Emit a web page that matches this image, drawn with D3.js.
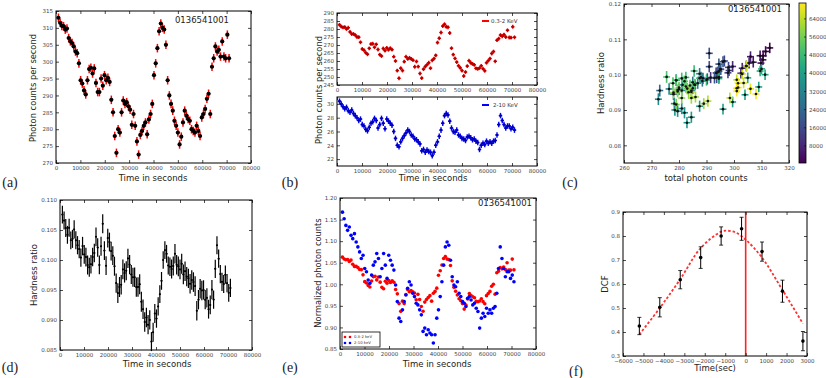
<!DOCTYPE html>
<html>
<head>
<meta charset="utf-8">
<script src="https://cdnjs.cloudflare.com/ajax/libs/d3/7.8.5/d3.min.js"></script>
<style>
body { margin: 0; background: #fff; }
svg { display: block; font-family: "DejaVu Sans", sans-serif; }
</style>
</head>
<body>
<script>
// ---- data ----
// bin times (s)
var time = [1000,1700,2400,3100,3800,4500,5200,5900,6600,7300,
            8000,8700,9400,10100,10800,11500,12200,12900,13600,14300,
            15000,15700,16400,17100,17800,18500,19200,19900,20600,21300,
            22000,22700,23400,24100,24800,25500,26200,26900,27600,28300,
            29000,29700,30400,31100,31800,32500,33200,33900,34600,35300,
            36000,36700,37400,38100,38800,39500,40200,40900,41600,42300,
            43000,43700,44400,45100,45800,46500,47200,47900,48600,49300,
            50000,50700,51400,52100,52800,53500,54200,54900,55600,56300,
            57000,57700,58400,59100,59800,60500,61200,61900,62600,63300,
            64000,64700,65400,66100,66800,67500,68200,68900,69600,70300,71000];

// 0.3-2 keV count rate
var soft = [282.6,281.5,281.0,281.2,280.0,280.8,278.2,276.9,276.9,276.2,
            275.0,274.9,271.7,267.5,266.7,265.2,264.2,267.9,270.6,270.8,
            268.6,270.4,267.2,264.0,263.1,267.8,266.5,268.2,267.0,268.0,
            267.1,262.7,260.0,254.0,249.2,255.5,254.0,259.6,262.7,261.3,
            262.0,261.3,260.5,256.4,259.7,256.5,252.2,249.3,254.9,256.5,
            257.7,258.9,255.5,260.4,261.5,263.5,271.5,274.2,277.8,281.8,
            283.0,281.4,281.1,277.5,268.0,264.0,261.6,259.3,257.0,255.7,
            254.0,250.6,253.1,256.8,260.2,258.9,258.2,257.6,255.4,255.1,
            255.6,257.0,255.2,253.9,258.9,260.2,261.5,264.7,265.9,259.8,
            273.0,274.0,276.2,275.4,276.5,275.0,279.2,274.7,274.6,281.4,274.8];

// 2-10 keV count rate
var hard = [30.4,30.0,29.6,29.3,29.5,29.0,28.8,29.1,28.6,28.3,
            28.0,27.6,27.8,27.0,26.8,26.3,26.1,26.6,27.2,27.4,
            27.9,27.6,26.5,27.0,27.9,27.2,26.4,27.8,27.5,27.2,
            26.9,26.0,25.0,24.0,23.8,24.5,25.0,25.4,25.8,26.2,
            26.0,25.5,25.3,24.9,24.8,24.5,24.2,23.2,23.4,23.0,
            23.3,23.1,23.0,22.5,23.0,24.0,24.5,25.3,26.2,27.2,
            28.3,28.6,28.4,27.5,26.5,26.0,25.9,26.2,25.5,25.3,
            25.0,24.9,24.7,25.2,25.3,25.1,24.8,24.9,24.6,24.4,
            23.4,24.0,24.3,24.1,24.6,24.3,24.5,24.3,24.6,24.7,
            25.5,27.0,28.3,27.6,27.0,26.5,26.8,26.8,26.4,26.6,26.2];

var softErr = 1.2, hardErr = 0.4, timeErr = 700;

// discrete correlation function
var lag = [-5200,-4200,-3200,-2200,-1200,-200,800,1800,2800];
var dcf = [0.425,0.503,0.618,0.71,0.80,0.83,0.735,0.57,0.362];
var dcfErr = [0.036,0.04,0.038,0.045,0.038,0.048,0.04,0.046,0.04];
var fitLag = [-5200,-4200,-3200,-2200,-1200,-900,-500,0,800,1800,2800];
var fitDcf = [0.39,0.50,0.62,0.75,0.818,0.822,0.815,0.785,0.71,0.575,0.435];

var obsId = "0136541001";

// ---- derived quantities ----
var meanS = d3.mean(soft), meanH = d3.mean(hard);
var data = time.map(function(t, i) {
  var s = soft[i], h = hard[i];
  var hr = h / s;
  return {t: t, s: s, h: h, tot: s + h, hr: hr,
          totErr: Math.sqrt(softErr*softErr + hardErr*hardErr),
          hrErr: hr * Math.sqrt(Math.pow(hardErr/h, 2) + Math.pow(softErr/s, 2)),
          ns: s / meanS, nh: h / meanH};
});

var svg = d3.select("body").append("svg")
  .attr("width", 826).attr("height", 378);

var blank = function() { return ""; };

// frame with inward ticks on all sides (matplotlib classic look)
function axes(x, y, xt, yt, xf, yf) {
  var g = svg.append("g");
  var y0 = y.range()[0], y1 = y.range()[1], x0 = x.range()[0], x1 = x.range()[1];
  g.append("g").attr("transform", "translate(0," + y0 + ")")
    .call(d3.axisBottom(x).tickValues(xt).tickFormat(xf).tickSize(-3).tickPadding(3));
  g.append("g").attr("transform", "translate(0," + y1 + ")")
    .call(d3.axisTop(x).tickValues(xt).tickFormat(blank).tickSize(-3));
  g.append("g").attr("transform", "translate(" + x0 + ",0)")
    .call(d3.axisLeft(y).tickValues(yt).tickFormat(yf).tickSize(-3).tickPadding(3));
  g.append("g").attr("transform", "translate(" + x1 + ",0)")
    .call(d3.axisRight(y).tickValues(yt).tickFormat(blank).tickSize(-3));
  g.selectAll(".domain").remove();
  g.selectAll(".tick text").style("font-size", "5.5px").style("font-family", "DejaVu Sans").attr("fill", "#444");
  g.selectAll(".tick line").attr("stroke", "#000").attr("stroke-width", 0.7);
  g.append("rect").attr("x", x0).attr("y", y1)
    .attr("width", x1 - x0).attr("height", y0 - y1)
    .attr("fill", "none").attr("stroke", "#000").attr("stroke-width", 1);
}

function errbars(rows, fx, fy, fex, fey, color, sw) {
  var g = svg.append("g");
  g.selectAll("line.v").data(rows).enter().append("line")
    .attr("x1", fx).attr("x2", fx)
    .attr("y1", function(d) { return fy(d) - fey(d); })
    .attr("y2", function(d) { return fy(d) + fey(d); })
    .attr("stroke", color).attr("stroke-width", sw);
  if (fex) {
    g.selectAll("line.h").data(rows).enter().append("line")
      .attr("y1", fy).attr("y2", fy)
      .attr("x1", function(d) { return fx(d) - fex(d); })
      .attr("x2", function(d) { return fx(d) + fex(d); })
      .attr("stroke", color).attr("stroke-width", sw);
  }
  return g;
}

function dots(rows, fx, fy, r, color) {
  svg.append("g").selectAll("circle").data(rows).enter().append("circle")
    .attr("cx", fx).attr("cy", fy).attr("r", r).attr("fill", color);
}

function label(x, y, txt, size, rot, family) {
  svg.append("text")
    .attr("transform", "translate(" + x + "," + y + ")" + (rot ? " rotate(-90)" : ""))
    .attr("text-anchor", "middle")
    .style("font-size", size + "px")
    .style("font-family", family || "DejaVu Sans")
    .attr("fill", "#222")
    .text(txt);
}

var tTicks = d3.range(0, 80001, 10000);
var fmtInt = d3.format("d");

// ===== (a) total light curve =====
var xa = d3.scaleLinear().domain([0, 80000]).range([56, 251]);
var ya = d3.scaleLinear().domain([270, 315]).range([163, 11]);
errbars(data, function(d) { return xa(d.t); }, function(d) { return ya(d.tot); },
  function(d) { return xa(timeErr) - xa(0); }, function(d) { return ya(0) - ya(d.totErr) ; },
  "#ff0000", 1.5);
dots(data, function(d) { return xa(d.t); }, function(d) { return ya(d.tot); }, 2.1, "#000");
axes(xa, ya, tTicks, d3.range(270, 316, 5), fmtInt, fmtInt);
label(202, 23, obsId, 8.5);
label(153, 181, "Time in seconds", 8.5);
label(36, 88, "Photon counts per second", 8.3, true);
label(10, 187, "(a)", 14, false, "Liberation Serif");

// ===== (b) soft and hard light curves =====
var xb = d3.scaleLinear().domain([0, 80000]).range([337, 537]);
var yb1 = d3.scaleLinear().domain([245, 290]).range([85, 13]);
var yb2 = d3.scaleLinear().domain([21, 31]).range([166, 97]);
errbars(data, function(d) { return xb(d.t); }, function(d) { return yb1(d.s); },
  function() { return xb(timeErr) - xb(0); }, function() { return yb1(0) - yb1(softErr); },
  "#ff0000", 1.4);
dots(data, function(d) { return xb(d.t); }, function(d) { return yb1(d.s); }, 1.3, "#b00000");
axes(xb, yb1, tTicks, d3.range(245, 291, 5), fmtInt, fmtInt);
errbars(data, function(d) { return xb(d.t); }, function(d) { return yb2(d.h); },
  function() { return xb(timeErr) - xb(0); }, function() { return yb2(0) - yb2(hardErr); },
  "#0000ff", 1.4);
dots(data, function(d) { return xb(d.t); }, function(d) { return yb2(d.h); }, 1.3, "#0000b0");
axes(xb, yb2, tTicks, d3.range(22, 31, 2), fmtInt, fmtInt);
svg.append("line").attr("x1", 482).attr("x2", 489).attr("y1", 21).attr("y2", 21)
  .attr("stroke", "#ff0000").attr("stroke-width", 2);
svg.append("text").attr("x", 491).attr("y", 23).style("font-size", "5.5px").attr("fill", "#333").text("0.3-2 KeV");
svg.append("line").attr("x1", 482).attr("x2", 489).attr("y1", 105).attr("y2", 105)
  .attr("stroke", "#0000ff").attr("stroke-width", 2);
svg.append("text").attr("x", 493).attr("y", 107).style("font-size", "5.5px").attr("fill", "#333").text("2-10 KeV");
label(433, 181, "Time in seconds", 8.5);
label(322, 90, "Photon counts per second", 8.3, true);
label(290, 187, "(b)", 14, false, "Liberation Serif");

// ===== (c) hardness vs total, coloured by time =====
var xc = d3.scaleLinear().domain([260, 320]).range([624, 789]);
var yc = d3.scaleLinear().domain([0.075, 0.12]).range([163, 4]);
var tMin = 500, tMax = 71000;
var color = d3.scaleSequential(d3.interpolateViridis).domain([tMin, tMax]);
var gc = svg.append("g");
data.forEach(function(d) {
  var cx = xc(d.tot), cy = yc(d.hr);
  var dx = xc(d.tot + d.totErr) - cx, dy = yc(d.hr) - yc(d.hr + d.hrErr);
  gc.append("line").attr("x1", cx - dx).attr("x2", cx + dx).attr("y1", cy).attr("y2", cy)
    .attr("stroke", color(d.t)).attr("stroke-width", 1.6);
  gc.append("line").attr("x1", cx).attr("x2", cx).attr("y1", cy - dy).attr("y2", cy + dy)
    .attr("stroke", color(d.t)).attr("stroke-width", 1.6);
});
dots(data, function(d) { return xc(d.tot); }, function(d) { return yc(d.hr); }, 1.3, "#111");
axes(xc, yc, d3.range(260, 321, 10), d3.range(0.08, 0.1201, 0.01), fmtInt, d3.format(".2f"));
label(755, 12, obsId, 8.5);
label(706, 181, "total photon counts", 8.5);
label(604, 83, "Hardness ratio", 8.5, true);
label(570, 187, "(c)", 14, false, "Liberation Serif");

// colorbar
var defs = svg.append("defs");
var grad = defs.append("linearGradient").attr("id", "vir")
  .attr("x1", "0").attr("x2", "0").attr("y1", "1").attr("y2", "0");
d3.range(0, 1.001, 0.1).forEach(function(p) {
  grad.append("stop").attr("offset", p).attr("stop-color", d3.interpolateViridis(p));
});
var ycb = d3.scaleLinear().domain([tMin, tMax]).range([163, 3]);
svg.append("rect").attr("x", 799).attr("y", 3).attr("width", 7).attr("height", 160)
  .attr("fill", "url(#vir)").attr("stroke", "#000").attr("stroke-width", 0.8);
var cbTicks = d3.range(8000, 64001, 8000);
svg.append("g").selectAll("line").data(cbTicks).enter().append("line")
  .attr("x1", 804).attr("x2", 806).attr("y1", ycb).attr("y2", ycb).attr("stroke", "#000").attr("stroke-width", 0.6);
svg.append("g").selectAll("text").data(cbTicks).enter().append("text")
  .attr("x", 809).attr("y", function(d) { return ycb(d) + 2; })
  .style("font-size", "5.5px").attr("fill", "#444").text(fmtInt);

// ===== (d) hardness ratio vs time =====
var xd = d3.scaleLinear().domain([0, 80000]).range([60, 252]);
var yd = d3.scaleLinear().domain([0.085, 0.110]).range([350, 200]);
errbars(data, function(d) { return xd(d.t); }, function(d) { return yd(d.hr); },
  function() { return xd(timeErr / 2) - xd(0); }, function(d) { return yd(0) - yd(d.hrErr); },
  "#000", 1.2);
dots(data, function(d) { return xd(d.t); }, function(d) { return yd(d.hr); }, 1, "#000");
axes(xd, yd, tTicks, d3.range(0.085, 0.1101, 0.005), fmtInt, d3.format(".3f"));
label(157, 367, "Time in seconds", 8.5);
label(37, 275, "Hardness ratio", 8.5, true);
label(10, 372, "(d)", 14, false, "Liberation Serif");

// ===== (e) normalized light curves =====
var xe = d3.scaleLinear().domain([0, 80000]).range([340, 536]);
var ye = d3.scaleLinear().domain([0.85, 1.20]).range([349, 198]);
dots(data, function(d) { return xe(d.t); }, function(d) { return ye(d.ns); }, 1.8, "#ff0000");
dots(data, function(d) { return xe(d.t); }, function(d) { return ye(d.nh); }, 1.8, "#0000ff");
axes(xe, ye, tTicks, d3.range(0.85, 1.2001, 0.05), fmtInt, d3.format(".2f"));
svg.append("rect").attr("x", 342).attr("y", 332).attr("width", 38).attr("height", 15)
  .attr("fill", "#fff").attr("stroke", "#000").attr("stroke-width", 0.8);
[["#ff0000", "0.3-2 keV", 337], ["#0000ff", "2-10 keV", 343]].forEach(function(l) {
  svg.append("circle").attr("cx", 345).attr("cy", l[2]).attr("r", 1.3).attr("fill", l[0]);
  svg.append("circle").attr("cx", 350).attr("cy", l[2]).attr("r", 1.3).attr("fill", l[0]);
  svg.append("text").attr("x", 354).attr("y", l[2] + 1.3).style("font-size", "3.8px").attr("fill", "#333").text(l[1]);
});
label(505, 206, obsId, 8.5);
label(437, 367, "Time in seconds", 8.5);
label(321, 273, "Normalized photon counts", 8.3, true);
label(290, 372, "(e)", 14, false, "Liberation Serif");

// ===== (f) DCF =====
var xf = d3.scaleLinear().domain([-6000, 3000]).range([623, 807]);
var yf = d3.scaleLinear().domain([0.3, 0.9]).range([356, 212]);
var fitLine = d3.line().x(function(d) { return xf(d[0]); }).y(function(d) { return yf(d[1]); })
  .curve(d3.curveCatmullRom);
svg.append("path").datum(d3.zip(fitLag, fitDcf)).attr("d", fitLine)
  .attr("fill", "none").attr("stroke", "#ff3030").attr("stroke-width", 1.8).attr("stroke-dasharray", "2.5,2");
svg.append("line").attr("x1", xf(0)).attr("x2", xf(0)).attr("y1", 212).attr("y2", 356)
  .attr("stroke", "#ff2020").attr("stroke-width", 1.6);
var dcfRows = lag.map(function(l, i) { return {x: l, y: dcf[i], e: dcfErr[i]}; });
var gf = errbars(dcfRows, function(d) { return xf(d.x); }, function(d) { return yf(d.y); },
  null, function(d) { return yf(0) - yf(d.e); }, "#000", 1);
dcfRows.forEach(function(d) {
  [d.y - d.e, d.y + d.e].forEach(function(v) {
    gf.append("line").attr("x1", xf(d.x) - 2).attr("x2", xf(d.x) + 2)
      .attr("y1", yf(v)).attr("y2", yf(v)).attr("stroke", "#000").attr("stroke-width", 0.8);
  });
});
dots(dcfRows, function(d) { return xf(d.x); }, function(d) { return yf(d.y); }, 1.8, "#000");
axes(xf, yf, d3.range(-6000, 3001, 1000), d3.range(0.3, 0.901, 0.1), fmtInt, d3.format(".1f"));
label(715, 371, "Time(sec)", 8.5);
label(608, 284, "DCF", 8.5, true);
label(576, 376, "(f)", 14, false, "Liberation Serif");
</script>
</body>
</html>
